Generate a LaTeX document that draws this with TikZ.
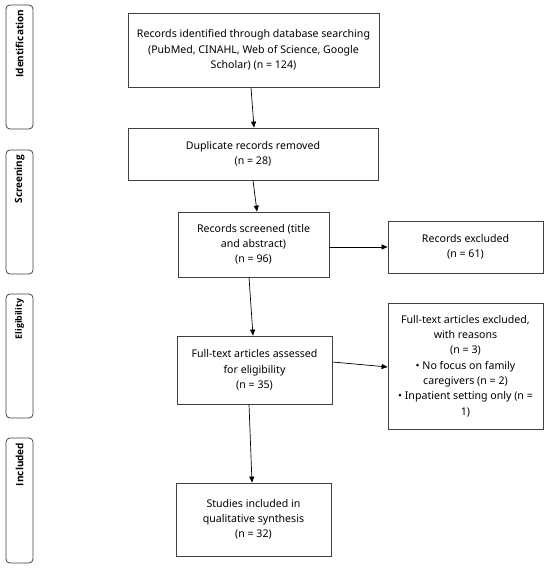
\documentclass[tikz,border=0pt]{standalone}
\usepackage{fontspec}
\setmainfont{Noto Sans}
\newfontfamily\sidefont{Open Sans}
\usetikzlibrary{arrows.meta}
\begin{document}
\begin{tikzpicture}[x=1pt,y=-1pt,
  box/.style={draw=black!75,line width=0.8pt,rectangle,inner sep=0pt,align=center,
    font=\fontsize{10.6}{15.3}\selectfont,text=black},
  side/.style={draw=black!75,line width=0.8pt,rounded corners=4pt,minimum width=27pt},
  sidetext/.style={rotate=90,anchor=east,font=\sidefont\fontsize{10}{11}\selectfont\bfseries,inner sep=0pt},
  arr/.style={-{Triangle[length=6pt,width=5pt]},line width=0.7pt,black}]
\useasboundingbox (0,0) rectangle (550,569);
% side labels
\node[side,minimum height=124pt] (s1) at (19.5,67) {};
\node[side,minimum height=124pt] (s2) at (19.5,212) {};
\node[side,minimum height=124pt] (s3) at (19.5,356) {};
\node[side,minimum height=125pt] (s4) at (19.5,500.5) {};
\node[sidetext] (t1) at ([yshift=-5pt]s1.north) {Identification};
\node[sidetext] (t2) at ([yshift=-5pt]s2.north) {Screening};
\node[sidetext,font=\sidefont\fontsize{8.8}{11}\selectfont\bfseries] (t3) at ([yshift=-5pt]s3.north) {Eligibility};
\node[sidetext] (t4) at ([yshift=-5pt]s4.north) {Included};
% boxes
\node[box,minimum width=251pt,minimum height=74pt] (b1) at (253.5,50) {Records identified through database searching\\(PubMed, CINAHL, Web of Science, Google\\Scholar) (n = 124)};
\node[box,minimum width=250pt,minimum height=52pt] (b2) at (253,154) {Duplicate records removed\\(n = 28)};
\node[box,minimum width=151pt,minimum height=65pt] (b3) at (253.5,244.5) {Records screened (title\\and abstract)\\(n = 96)};
\node[box,minimum width=155pt,minimum height=52pt] (b4) at (465.5,247) {Records excluded\\(n = 61)};
\node[box,minimum width=155pt,minimum height=68pt] (b5) at (254.5,370) {Full-text articles assessed\\for eligibility\\(n = 35)};
\node[box,minimum width=155pt,minimum height=126pt] (b6) at (465.5,366) {Full-text articles excluded,\\with reasons\\(n = 3)\\• No focus on family\\caregivers (n = 2)\\• Inpatient setting only (n =\\1)};
\node[box,minimum width=155pt,minimum height=73pt] (b7) at (253.5,519.5) {Studies included in\\qualitative synthesis\\(n = 32)};
% arrows
\draw[arr] ([xshift=-2.5pt]b1.south) -- ([xshift=1pt]b2.north);
\draw[arr] (b2.south) -- ([xshift=3.5pt]b3.north);
\draw[arr] ([yshift=-2.5pt]b3.east) -- (b4.west);
\draw[arr] ([xshift=-4.5pt]b3.south) -- ([xshift=-1.5pt]b5.north);
\draw[arr] ([yshift=8pt]b5.east) -- ([yshift=-1pt]b6.west);
\draw[arr] ([xshift=-5.5pt]b5.south) -- ([xshift=-1.5pt]b7.north);
\end{tikzpicture}
\end{document}
